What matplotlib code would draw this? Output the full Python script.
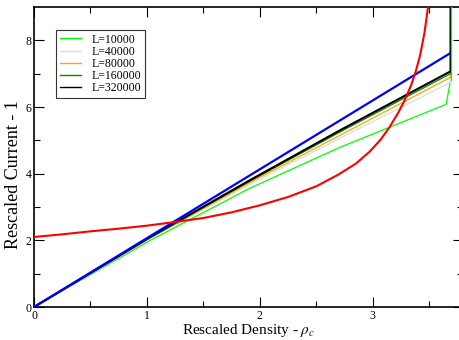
import matplotlib
matplotlib.use("Agg")
import matplotlib.pyplot as plt

# scaled density (x) and scaled current - 1 (y) per system size
labels = ["L=10000", "L=40000", "L=80000", "L=160000", "L=320000"]
colors = ["#00ff00", "#dcdcdc", "#ffa500", "#008b00", "#000000"]

x_l10k = [0, 1.03, 1.91, 2.71, 3.65, 3.69, 3.69]
y_l10k = [0, 2.00, 3.56, 4.79, 6.08, 6.80, 10.0]
x_big = [0, 1.03, 1.91, 2.71, 3.69, 3.69]
y_l40k = [0, 2.05, 3.68, 5.06, 6.74, 10.0]
y_l80k = [0, 2.07, 3.73, 5.15, 6.89, 10.0]
y_l160k = [0, 2.09, 3.77, 5.25, 7.00, 10.0]
y_l320k = [0, 2.10, 3.80, 5.30, 7.07, 10.0]

# theory curves
x_blue = [0, 3.68]
y_blue = [0, 7.6]
x_red = [0, 0.25, 0.5, 0.75, 1.0, 1.25, 1.5, 1.75, 2.0, 2.25, 2.5, 2.7,
         2.85, 2.97, 3.07, 3.15, 3.23, 3.29, 3.34, 3.38, 3.42, 3.46, 3.49,
         3.52]
y_red = [2.1, 2.18, 2.27, 2.35, 2.44, 2.55, 2.67, 2.84, 3.05, 3.3, 3.62, 3.98,
         4.3, 4.65, 5.02, 5.4, 5.85, 6.25, 6.65, 7.05, 7.55, 8.25, 9.0, 9.6]

plt.rcParams["font.family"] = ["Liberation Serif", "DejaVu Serif"]
plt.rcParams["mathtext.fontset"] = "stix"

fig = plt.figure(figsize=(4.6, 3.4), dpi=100)
ax = fig.add_axes([34 / 460, 33 / 340, 429 / 460, 300 / 340])

ax.plot(x_blue, y_blue, color="#0000ff", lw=1.6, zorder=3)
ax.plot(x_l10k, y_l10k, color=colors[0], lw=0.9, label=labels[0])
ax.plot(x_big, y_l40k, color=colors[1], lw=0.9, label=labels[1])
ax.plot(x_big, y_l80k, color=colors[2], lw=0.9, label=labels[2])
ax.plot(x_big, y_l160k, color=colors[3], lw=0.9, label=labels[3])
ax.plot(x_big, y_l320k, color=colors[4], lw=1.5, label=labels[4])
ax.plot(x_red, y_red, color="#ff0000", lw=1.5, zorder=4)
# light green vertical sits on top in the reference
ax.plot(x_l10k[-2:], y_l10k[-2:], color=colors[0], lw=0.9, zorder=5)

ax.set_xlim(0, 3.8)
ax.set_ylim(0, 9)
ax.set_xticks([0, 1, 2, 3])
ax.set_xticks([0.5, 1.5, 2.5, 3.5], minor=True)
ax.set_yticks([0, 2, 4, 6, 8])
ax.set_yticks([1, 3, 5, 7], minor=True)
ax.tick_params(which="both", direction="in", top=True, right=True,
               labelsize=8.5, pad=2, width=0.8)
ax.tick_params(which="major", length=7)
ax.tick_params(which="minor", length=4)
for s in ax.spines.values():
    s.set_linewidth(1.2)

ax.set_xlabel("Rescaled Density - $\\rho_c$", fontsize=11, labelpad=0)
ax.set_ylabel("Rescaled Current - 1", fontsize=13)
ax.yaxis.set_label_coords(-0.028, 0.44)

leg = ax.legend(loc="upper left", bbox_to_anchor=(56 / 460, 1 - 30 / 340),
                bbox_transform=fig.transFigure, fontsize=8.5, frameon=True,
                fancybox=False, borderaxespad=0, handlelength=1.8,
                handletextpad=0.9, labelspacing=0.02, borderpad=0.3)
leg.get_frame().set_edgecolor("black")
leg.get_frame().set_linewidth(0.8)
for h in leg.get_lines():
    h.set_linewidth(1.0)

fig.savefig("out.png", dpi=100)
